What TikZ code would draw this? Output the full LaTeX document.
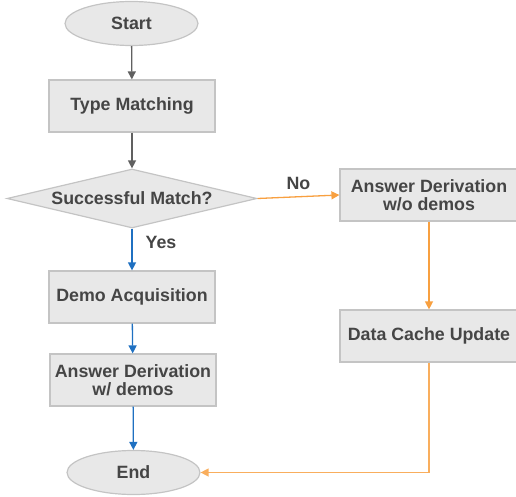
\documentclass[tikz,border=0pt]{standalone}
\usepackage{fontspec}
\setmainfont{Liberation Sans}
\usetikzlibrary{shapes.geometric,arrows.meta}
\definecolor{boxfill}{HTML}{E8E8E8}
\definecolor{boxline}{HTML}{C4C4C4}
\definecolor{txt}{HTML}{454545}
\definecolor{grayline}{HTML}{606060}
\definecolor{blueline}{HTML}{1F70C1}
\definecolor{orangeline}{HTML}{F8A040}
\tikzset{
  x=1pt,y=1pt,
  base/.style={fill=boxfill,draw=boxline,line width=1.2pt,text=txt,font=\fontsize{17.8}{17.5}\selectfont\bfseries,align=center,inner sep=0pt},
  procbox/.style={base,rectangle,minimum width=166pt,minimum height=52pt},
  termin/.style={base,ellipse,minimum width=133pt,minimum height=44pt},
  decide/.style={base,diamond,aspect=4.24,minimum width=250pt,minimum height=59pt},
  conn/.style={line width=1.3pt,-{Triangle[width=8pt,length=8pt]}},
  lbl/.style={text=txt,font=\fontsize{17.8}{17.5}\selectfont\bfseries,inner sep=0pt}
}
\begin{document}
\begin{tikzpicture}
\useasboundingbox (0,0) rectangle (516,-497);
\node[termin] (start) at (131.5,-23.5) {Start};
\node[procbox] (tm) at (132,-106) {Type Matching};
\node[decide] (dia) at (132,-198.5) {Successful Match?};
\node[procbox] (demo) at (132,-297) {Demo Acquisition};
\node[procbox] (adw) at (133,-380) {Answer Derivation\\w/ demos};
\node[termin] (end) at (133.5,-472.5) {End};
\node[procbox,minimum width=178pt] (ado) at (429,-195) {Answer Derivation\\w/o demos};
\node[procbox,minimum width=178pt] (dcu) at (429,-336) {Data Cache Update};
\draw[conn,grayline] (start) -- (tm);
\draw[conn,grayline] (tm) -- (dia);
\draw[conn,blueline] (dia.south) -- (demo.north) node[lbl,pos=0.33,right=13pt] (yes) {Yes};
\draw[conn,blueline] (demo) -- (adw);
\draw[conn,blueline] (adw) -- (end);
\draw[conn,orangeline] (dia.east) -- (ado.west) node[lbl,pos=0.5,above=6pt] (no) {No};
\draw[conn,orangeline] (ado) -- (dcu);
\draw[conn,orangeline!85!white] (dcu.south) |- (end.east);
\end{tikzpicture}
\end{document}
